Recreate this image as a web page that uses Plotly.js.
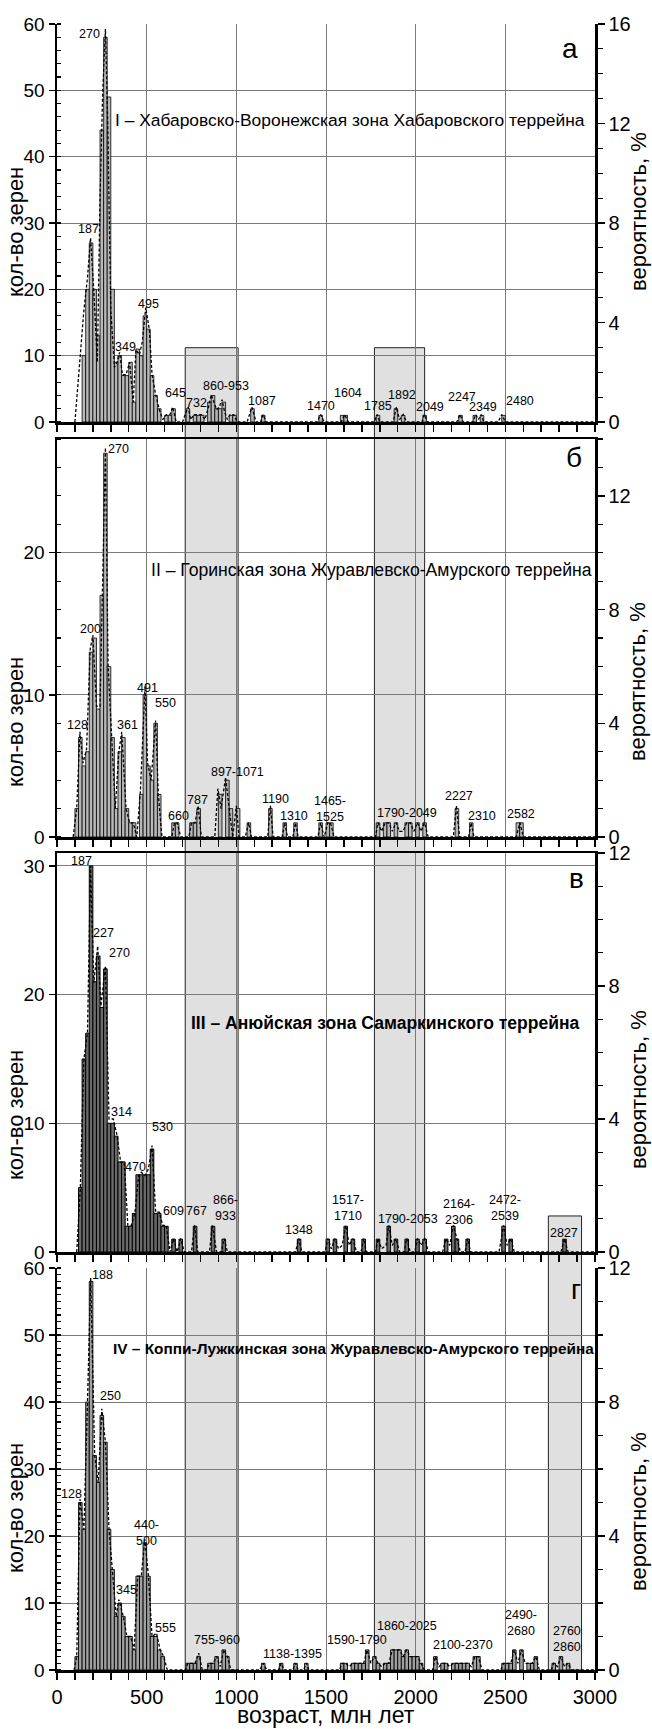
<!DOCTYPE html>
<html><head><meta charset="utf-8">
<script src="https://cdn.plot.ly/plotly-3.0.1.min.js"></script>
<style>html,body{margin:0;padding:0;background:#fff}#chart{width:652px;height:1729px}</style>
</head><body><div id="chart"></div>
<script>
// ===== DATA =====
// Panel а
const aAges   = [150,170,190,210,230,250,270,290,310,330,350,370,390,410,430,450,470,490,510,530,550,570,610,630,650,730,770,790,810,850,870,890,910,930,970,990,1090,1150,1470,1590,1610,1790,1890,1930,2050,2250,2330,2370,2490];
const aCounts = [10,20,27,20,13,44,58,49,20,9,10,7,7,9,3,11,10,16,14,7,4,2,1,1,2,2,1,1,1,3,4,2,2,3,1,1,2,1,1,1,1,1,2,1,1,1,1,1,1];
const aCurveAge  = [100,130,150,170,187,205,225,240,255,270, 283,300,320,335,349,365,385,405,425,440, 460,475,495,515,530,550,570,590,610,630, 645,665,700,720,732,745,765,785,805,825, 845,860,875,890,905,920,935,950,965,985, 1005,1060,1087,1110,1135,1150,1165,1450,1470,1490, 1585,1604,1625,1770,1785,1800,1875,1892,1910,1930, 1950,2035,2049,2065,2230,2247,2265,2320,2335,2350, 2365,2380,2460,2480,2500,3000];
const aCurveProb = [0,2.7,4.5,5.8,7.4,5.3,2.4,9,13.3,15.8, 12,4.5,2.2,2.4,2.8,1.9,1.9,2.4,0.8,2.9, 2.7,3.2,4.6,3.7,1.9,1.1,0.5,0.1,0.3,0.3, 0.6,0,0,0.4,0.6,0.1,0.3,0.3,0.3,0.1, 0.6,1.1,0.8,0.5,0.6,0.9,0.4,0.1,0.3,0.3, 0,0,0.6,0,0,0.3,0,0,0.3,0, 0,0.3,0,0,0.3,0,0,0.6,0.1,0.3, 0,0,0.3,0,0,0.3,0,0,0.3,0.1, 0.3,0,0,0.3,0,0];
const aLabels = ['270','187','495','349','645','732','860-953','1087','1470','1604','1785','1892','2049','2247','2349','2480'];
const aLabelX = [181,174,512,384,663,779,942,1144,1472,1624,1791,1926,2082,2256,2373,2582];
const aLabelY = [58.5,29.1,17.8,11.3,4.3,2.8,5.4,3.1,2.4,4.3,2.4,4.0,2.3,3.8,2.3,3.1];

// Panel б
const bAges   = [110,130,150,170,190,210,230,250,270,290,310,330,350,370,390,410,430,470,490,510,530,550,570,650,670,750,770,790,910,950,970,1010,1070,1190,1270,1330,1470,1510,1530,1790,1830,1850,1890,1950,1970,2010,2050,2230,2310,2570,2590];
const bCounts = [2,7,5,6,13,14,9,17,27,12,7,2,6,7,2,1,1,3,10,5,4,8,3,1,1,1,1,2,3,4,2,2,1,2,1,1,1,1,1,1,1,1,1,1,1,1,1,2,1,1,1];
const bCurveAge  = [90,110,128,145,165,185,200,220,240,255, 270,285,305,325,345,361,385,405,425,445, 465,491,505,525,550,565,585,640,655,670, 690,735,750,770,787,805,880,897,915,940, 960,980,1000,1015,1050,1068,1085,1175,1190,1205, 1255,1270,1285,1315,1330,1345,1455,1470,1490,1510, 1525,1545,1775,1790,1810,1830,1850,1870,1890,1910, 1930,1950,1970,1990,2010,2030,2049,2070,2210,2227, 2245,2295,2310,2325,2560,2582,2600,3000];
const bCurveProb = [0,1,3.7,2.6,3.1,6.6,7.1,4.6,4.6,8.6, 13.7,6,3.5,1,3,3.7,1,0.5,0.5,0, 1.6,5.3,2.6,2,4.1,1.5,0,0,0.5,0.5, 0,0,0.5,0.5,1.1,0,0,1.7,1,2.1, 1,0,1.1,0,0,0.5,0,0,1.1,0, 0,0.5,0,0,0.5,0,0,0.5,0,0.5, 0.5,0,0,0.5,0.2,0.5,0.5,0.2,0.5,0.2, 0.2,0.5,0.5,0.2,0.5,0.2,0.5,0,0,1.1, 0,0,0.5,0,0,0.5,0,0];
const bLabels = ['270','200','128','361','491','550','660','787','897-1071','1190','1310','1465-<br>1525','1790-2049','2227','2310','2582'];
const bLabelX = [344,188,116,391,502,605,677,782,1007,1216,1321,1523,1949,2240,2368,2589];
const bLabelY = [27.3,14.6,7.9,7.9,10.5,9.4,1.5,2.6,4.6,2.7,1.5,2.0,1.7,2.9,1.5,1.6];

// Panel в
const cAges   = [130,150,170,190,210,230,250,270,290,310,330,350,370,390,410,430,450,470,490,510,530,550,570,590,610,650,690,770,870,930,1350,1510,1550,1610,1650,1710,1790,1850,1890,1950,2010,2050,2170,2210,2230,2290,2490,2530,2830];
const cCounts = [5,15,17,30,21,23,19,22,10,10,9,7,7,2,2,3,6,6,6,6,8,3,3,2,2,1,1,2,2,1,1,1,1,2,1,1,1,2,1,1,1,1,1,2,1,1,2,1,1];
const cCurveAge  = [110,130,150,170,187,205,227,245,270,290, 314,335,355,375,395,415,435,455,470,490, 510,530,550,570,590,609,630,650,670,690, 710,750,767,785,850,866,890,915,933,950, 1330,1348,1365,1495,1510,1530,1550,1570,1590,1610, 1630,1650,1670,1695,1710,1725,1775,1790,1810,1835, 1850,1870,1890,1910,1935,1950,1970,1995,2010,2030, 2053,2070,2150,2170,2190,2210,2230,2250,2275,2290, 2306,2465,2490,2510,2530,2550,2810,2830,2850,3000];
const cCurveProb = [0,1.9,5.8,6.6,11.6,8.1,9.2,7.4,8.6,4.0, 4.0,3.5,2.7,2.7,0.8,0.8,1.2,2.3,2.4,2.3, 2.5,3.2,1.2,1.2,0.8,0.8,0,0.4,0,0.4, 0,0,0.8,0,0,0.8,0,0,0.4,0, 0,0.4,0,0,0.4,0.1,0.4,0.1,0.2,0.8, 0.2,0.4,0,0,0.4,0,0,0.4,0.1,0.2, 0.8,0.2,0.4,0,0,0.4,0,0,0.4,0.2, 0.4,0,0,0.4,0.2,0.8,0.4,0,0,0.4, 0,0,0.8,0.2,0.4,0,0,0.4,0,0];
const cLabels = ['187','227','270','314','530','470','609','767','866-<br>933','1348','1517-<br>1710','1790-2053','2164-<br>2306','2472-<br>2539','2827'];
const cLabelX = [139,262,347,359,586,435,648,776,938,1347,1625,1956,2241,2496,2829];
const cLabelY = [30.4,24.8,23.2,10.9,9.7,6.6,3.2,3.2,3.4,1.7,3.4,2.6,3.1,3.4,1.5];

// Panel г
const dAges   = [110,130,150,170,190,210,230,250,270,290,310,330,350,370,390,410,430,450,470,490,510,530,550,570,590,730,750,770,790,850,870,890,930,950,1150,1250,1330,1390,1590,1610,1650,1670,1690,1710,1730,1770,1790,1830,1850,1870,1890,1910,1930,1950,1970,1990,2010,2030,2110,2150,2170,2210,2230,2250,2270,2290,2330,2350,2490,2510,2530,2550,2590,2630,2650,2670,2770,2810,2850];
const dCounts = [2,25,21,40,58,32,28,38,34,21,15,8,10,8,5,5,3,14,14,19,14,5,5,3,2,1,1,1,2,1,1,2,3,2,1,1,1,1,1,1,1,1,1,1,3,2,1,1,1,3,3,3,2,3,2,2,2,1,2,1,1,1,1,1,1,1,2,2,1,1,1,3,3,1,1,2,1,2,1];
const dCurveAge  = [95,110,128,150,170,188,210,230,250,270, 290,310,330,345,370,390,410,430,450,470, 490,510,530,555,575,595,615,715,730,750, 770,790,810,835,850,870,890,910,930,950, 970,1130,1150,1170,1235,1250,1265,1315,1330,1345, 1375,1390,1405,1575,1590,1610,1630,1650,1670,1690, 1710,1730,1750,1770,1790,1810,1830,1850,1870,1890, 1910,1930,1950,1970,1990,2010,2030,2050,2095,2110, 2130,2150,2170,2190,2210,2230,2250,2270,2290,2310, 2330,2350,2370,2475,2490,2510,2530,2550,2570,2590, 2610,2630,2650,2670,2690,2755,2770,2790,2810,2830, 2850,2870,3000];
const dCurveProb = [0,0.4,5.1,4.2,8,11.7,6.4,5.6,7.8,6.8, 4.2,3,1.6,2.1,1.6,1,1,0.6,2.8,2.8, 3.9,2.8,1,1.1,0.6,0.4,0,0,0.2,0.2, 0.2,0.5,0,0,0.2,0.2,0.4,0.1,0.6,0.4, 0,0,0.2,0,0,0.2,0,0,0.2,0, 0,0.2,0,0,0.2,0.2,0.1,0.2,0.2,0.2, 0.2,0.6,0.2,0.4,0.2,0.1,0.2,0.2,0.6,0.6, 0.6,0.4,0.6,0.4,0.4,0.4,0.2,0,0,0.4, 0.1,0.2,0.2,0.1,0.2,0.2,0.2,0.2,0.2,0.1, 0.4,0.4,0,0,0.2,0.2,0.2,0.6,0.2,0.6, 0.2,0.2,0.2,0.4,0,0,0.2,0.1,0.4,0.1, 0.2,0,0];
const dLabels = ['188','250','128','440-<br>500','345','555','755-960','1138-1395','1590-1790','1860-2025','2100-2370','2490-<br>2680','2760<br>2860'];
const dLabelX = [256,296,82,497,389,606,893,1312,1671,1951,2266,2587,2844];
const dLabelY = [59,40.9,26.3,20.5,11.9,6.3,4.5,2.4,4.5,6.5,3.75,7.0,4.6];

// Grey age bands (млн лет)
const bandStart = [715,1770,2740];
const bandEnd   = [1010,2050,2925];

const panelTitles = ['I – Хабаровско-Воронежская зона Хабаровского террейна','II – Горинская зона Журавлевско-Амурского террейна','<b>III – Анюйская зона Самаркинского террейна</b>','<b>IV – Коппи-Лужкинская зона Журавлевско-Амурского террейна</b>'];
const panelLetters = ['а','б','в','г'];
const xTitle = 'возраст, млн лет';
const yLeftTitle = 'кол-во зерен';
const yRightTitle = 'вероятность, %';

// ===== LAYOUT GEOMETRY =====
const W=652,H=1729,L=57,R=57,T=24,B=59;
const PH=H-T-B, PW=W-L-R;
const pyp = p => (H-B-p)/PH;
const pxp = p => (p-L)/PW;
const FONT = 'Liberation Sans, Arial, sans-serif';

const panels = [
 {ages:aAges,counts:aCounts,cx:aCurveAge,cy:aCurveProb,lab:aLabels,lx:aLabelX,ly:aLabelY,top:24,bot:422,ymax:60,pmax:16,yminor:2,fill:'#b8b8b8',lw:0.8,
  title:{x:350,y:120,size:17.4},letter:{x:570,y:49},ltitle:232,rtitle:212},
 {ages:bAges,counts:bCounts,cx:bCurveAge,cy:bCurveProb,lab:bLabels,lx:bLabelX,ly:bLabelY,top:439,bot:837,ymax:28,pmax:14,yminor:2,fill:'#b8b8b8',lw:0.8,
  title:{x:371,y:570,size:17.6},letter:{x:574,y:457},ltitle:722,rtitle:682},
 {ages:cAges,counts:cCounts,cx:cCurveAge,cy:cCurveProb,lab:cLabels,lx:cLabelX,ly:cLabelY,top:853,bot:1252,ymax:31,pmax:12,yminor:null,fill:'#6a6a6a',lw:1,
  title:{x:385,y:1023,size:17.5},letter:{x:576,y:878},ltitle:1115,rtitle:1090},
 {ages:dAges,counts:dCounts,cx:dCurveAge,cy:dCurveProb,lab:dLabels,lx:dLabelX,ly:dLabelY,top:1268,bot:1670,ymax:60,pmax:12,yminor:1,fill:'#a0a0a0',lw:0.9,
  title:{x:354,y:1348,size:15.4},letter:{x:576,y:1289},ltitle:1508,rtitle:1512}
];

const traces=[], annotations=[], shapes=[];
const layout = {
  width:W,height:H,autosize:false,
  margin:{l:L,r:R,t:T,b:B,pad:0},
  paper_bgcolor:'#fff',plot_bgcolor:'rgba(0,0,0,0)',
  showlegend:false,bargap:0,barmode:'overlay',
  font:{family:FONT,color:'#000',size:19},
};

panels.forEach((p,i)=>{
  const n=i+1;
  const xk = n===1?'xaxis':'xaxis'+n;
  const xid = n===1?'x':'x'+n;
  const yl = 2*n-1, yr = 2*n;
  const ylk = yl===1?'yaxis':'yaxis'+yl;
  const ylid = yl===1?'y':'y'+yl;
  const yrk = 'yaxis'+yr, yrid='y'+yr;
  const dom = [pyp(p.bot), pyp(p.top)];
  layout[xk] = {
    domain:[0,1], anchor:ylid, range:[0,3000], dtick:500, tick0:0,
    showgrid:true, gridcolor:'#7a7a7a', gridwidth:1, zeroline:false,
    showline:true, linecolor:'#000', linewidth:2.5,
    mirror: (n===2||n===3),
    ticks:'outside', ticklen:7, tickwidth:1.5, tickcolor:'#000',
    minor:{dtick:100, ticks:'outside', ticklen:7, tickwidth:1.5, tickcolor:'#000', showgrid:false},
    showticklabels: n===4, tickfont:{size:20,family:FONT}
  };
  layout[ylk] = {
    domain:dom, anchor:xid, range:[0,p.ymax], dtick:10, tick0:0,
    showgrid:true, gridcolor:'#7a7a7a', gridwidth:1, zeroline:false,
    showline:true, linecolor:'#000', linewidth:2.5,
    ticks:'outside', ticklen:6, tickwidth:1.5, tickcolor:'#000',
    tickfont:{size:19,family:FONT}
  };
  if(p.yminor) layout[ylk].minor = {dtick:p.yminor, ticks:'inside', ticklen:4, tickwidth:1.2, tickcolor:'#000', showgrid:false};
  layout[yrk] = {
    domain:dom, anchor:xid, overlaying:ylid, side:'right', range:[0,p.pmax], dtick:4, tick0:0,
    showgrid:false, zeroline:false, showline:true, linecolor:'#000', linewidth:2.5,
    ticks:'outside', ticklen:7, tickwidth:1.5, tickcolor:'#000',
    minor:{dtick:1, ticks:'outside', ticklen:5, tickwidth:1.2, tickcolor:'#000'},
    tickfont:{size:20,family:FONT}
  };
  traces.push({type:'bar', x:p.ages, y:p.counts, width:20, xaxis:xid, yaxis:ylid,
    marker:{color:p.fill, line:{color:'#000',width:p.lw}}, hoverinfo:'skip'});
  traces.push({type:'scatter', mode:'lines', x:p.cx, y:p.cy, xaxis:xid, yaxis:yrid,
    line:{color:'#000',width:1.3,dash:'3px,2px'}, hoverinfo:'skip'});
  p.lab.forEach((t,k)=>{
    annotations.push({xref:xid, yref:ylid, x:p.lx[k], y:p.ly[k], text:t, showarrow:false,
      font:{size:12.5,family:FONT}, xanchor:'center', yanchor:'middle', align:'center'});
  });
  annotations.push({xref:'paper',yref:'paper',x:pxp(p.title.x),y:pyp(p.title.y),text:panelTitles[i],
    showarrow:false,font:{size:p.title.size,family:FONT},xanchor:'center',yanchor:'middle'});
  annotations.push({xref:'paper',yref:'paper',x:pxp(p.letter.x),y:pyp(p.letter.y),text:panelLetters[i],
    showarrow:false,font:{size:28,family:FONT},xanchor:'center',yanchor:'middle'});
  annotations.push({xref:'paper',yref:'paper',x:pxp(15),y:pyp(p.ltitle),text:yLeftTitle,textangle:-90,
    showarrow:false,font:{size:22,family:FONT},xanchor:'center',yanchor:'middle',borderpad:0});
  annotations.push({xref:'paper',yref:'paper',x:pxp(638),y:pyp(p.rtitle),text:yRightTitle,textangle:-90,
    showarrow:false,font:{size:22,family:FONT},xanchor:'center',yanchor:'middle',borderpad:0});
});

// top axis with inside ticks for panel а
layout.xaxis5 = {overlaying:'x', anchor:'y', side:'top', range:[0,3000], dtick:100, ticks:'inside', ticklen:6,
  tickwidth:1.5, tickcolor:'#000', showline:true, linecolor:'#000', linewidth:2.5, showgrid:false,
  showticklabels:false, zeroline:false};

// grey bands spanning the panels
const bandTops = [pyp(422-11.2*(422-24)/60), pyp(422-11.2*(422-24)/60), pyp(1252-2.8*(1252-853)/31)];
bandStart.forEach((s,k)=>{
  shapes.push({type:'rect', xref:'x4', yref:'paper', x0:s, x1:bandEnd[k], y0:0, y1:bandTops[k],
    fillcolor:'#e0e0e0', line:{color:'#222',width:1}, layer:'below'});
});

annotations.push({xref:'paper',yref:'paper',x:pxp(326),y:pyp(1728.5),text:xTitle,showarrow:false,
  font:{size:23,family:FONT},xanchor:'center',yanchor:'bottom',borderpad:0});

layout.annotations = annotations;
layout.shapes = shapes;

Plotly.newPlot('chart', traces, layout, {staticPlot:true, displayModeBar:false});
</script></body></html>
